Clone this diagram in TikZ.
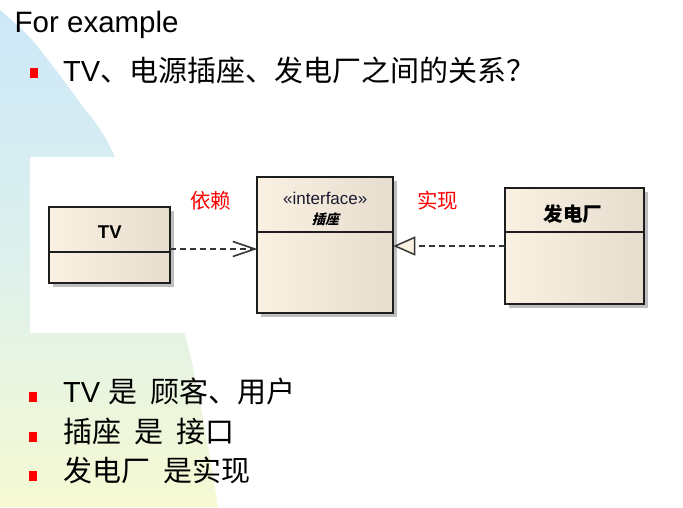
\documentclass[tikz,border=0pt]{standalone}
\usepackage{fontspec}
\setmainfont{Liberation Sans}
\newfontfamily\cjk[WordSpace=2]{Noto Sans CJK SC}
\newfontfamily\cjksl[FakeSlant=0.25]{Noto Sans CJK SC}
\usetikzlibrary{arrows.meta,shadows}
\definecolor{bgtop}{HTML}{CDE8F8}
\definecolor{bgmid}{HTML}{DDF0EC}
\definecolor{bgbot}{HTML}{F6FAD3}
\definecolor{boxL}{HTML}{FAF1E3}
\definecolor{boxR}{HTML}{E6DDCF}
\definecolor{boxline}{HTML}{1E1E1E}
\definecolor{shadowgray}{HTML}{BEBEBE}
\definecolor{stereo}{HTML}{1A1A30}
\definecolor{bulletred}{HTML}{FF0000}
\tikzset{
  umlbox/.style={draw=boxline, line width=1.8pt, left color=boxL, right color=boxR,
    inner sep=0pt, outer sep=0pt,
    drop shadow={shadow xshift=4pt, shadow yshift=-4pt, fill=shadowgray, opacity=1}},
  divider/.style={draw=boxline, line width=1.8pt},
  depline/.style={draw=boxline!90, line width=1.7pt, dash pattern=on 6pt off 4pt,
    -{Straight Barb[length=22pt,width=15pt,line width=1.6pt]}},
  realline/.style={draw=boxline!90, line width=1.7pt, dash pattern=on 6pt off 4pt,
    -{Triangle[length=22pt,width=19pt,fill=boxL,line width=1.5pt]}},
  redlabel/.style={text=red, font=\cjk\fontsize{20.5}{20.5}\selectfont, inner sep=0pt},
  bullet/.style={fill=bulletred, minimum width=8pt, minimum height=10pt, inner sep=0pt},
  bodytext/.style={anchor=base west, inner sep=0pt},
}
\begin{document}
\begin{tikzpicture}[x=1pt,y=-1pt]
\useasboundingbox (0,0) rectangle (683,507);
% background
\shade[top color=bgtop, bottom color=bgbot, middle color=bgmid]
  (0,507) -- (0,10) -- plot[smooth] coordinates {(0,10) (32,40) (78,100) (115,157) (185,335) (218,507)} -- cycle;
\fill[white] (30,157) rectangle (683,333);

% title
\node[bodytext] (title) at (14.5,32.5) {\fontsize{29.5}{29.5}\selectfont For example};
\node[bullet] (b0) at (33.5,73) {};
\node[bodytext] (l0) at (63,81) {\fontsize{29}{29}\selectfont TV{\cjk\fontsize{29}{29}\selectfont 、电源插座、发电厂之间的关系？}};

% UML boxes
\node[umlbox, minimum width=121pt, minimum height=75.4pt] (tv) at (109.8,245) {};
\draw[divider] (tv.west |- 0,252) -- (tv.east |- 0,252);
\node[font=\bfseries\fontsize{18.5}{18.5}\selectfont, inner sep=0pt] (tvname) at (109.8,232) {TV};

\node[umlbox, minimum width=136pt, minimum height=136.6pt] (iface) at (325.3,245) {};
\draw[divider] (iface.west |- 0,231.7) -- (iface.east |- 0,231.7);
\node[text=stereo, font=\fontsize{17}{17}\selectfont, inner sep=0pt] (stereo) at (325.3,198) {«interface»};
\node[font=\cjksl\bfseries\fontsize{13.5}{13.5}\selectfont, inner sep=0pt] (ifname) at (325.3,219.5) {插座};

\node[umlbox, minimum width=139.3pt, minimum height=116.6pt] (plant) at (574.3,246) {};
\draw[divider] (plant.west |- 0,232) -- (plant.east |- 0,232);
\node[font=\cjk\bfseries\fontsize{19.5}{19.5}\selectfont, inner sep=0pt] (plantname) at (573,214) {发电厂};

% connectors
\draw[depline] ([yshift=-4pt]tv.east) -- ([yshift=-4pt]tv.east -| iface.west);
\draw[realline] (plant.west) -- (plant.west -| iface.east);
\node[redlabel] (dep) at (210.5,201) {依赖};
\node[redlabel] (real) at (437.5,201) {实现};

% bottom bullets
\node[bullet] (b1) at (33,396.5) {};
\node[bodytext] (l1) at (63,402.5) {\fontsize{29}{29}\selectfont TV {\cjk\fontsize{29}{29}\selectfont 是 顾客、用户}};
\node[bullet] (b2) at (33,436.5) {};
\node[bodytext] (l2) at (63,442.5) {\cjk\fontsize{29}{29}\selectfont 插座 是 接口};
\node[bullet] (b3) at (33,475.5) {};
\node[bodytext] (l3) at (63,481.5) {\cjk\fontsize{29}{29}\selectfont 发电厂 是实现};
\end{tikzpicture}
\end{document}
